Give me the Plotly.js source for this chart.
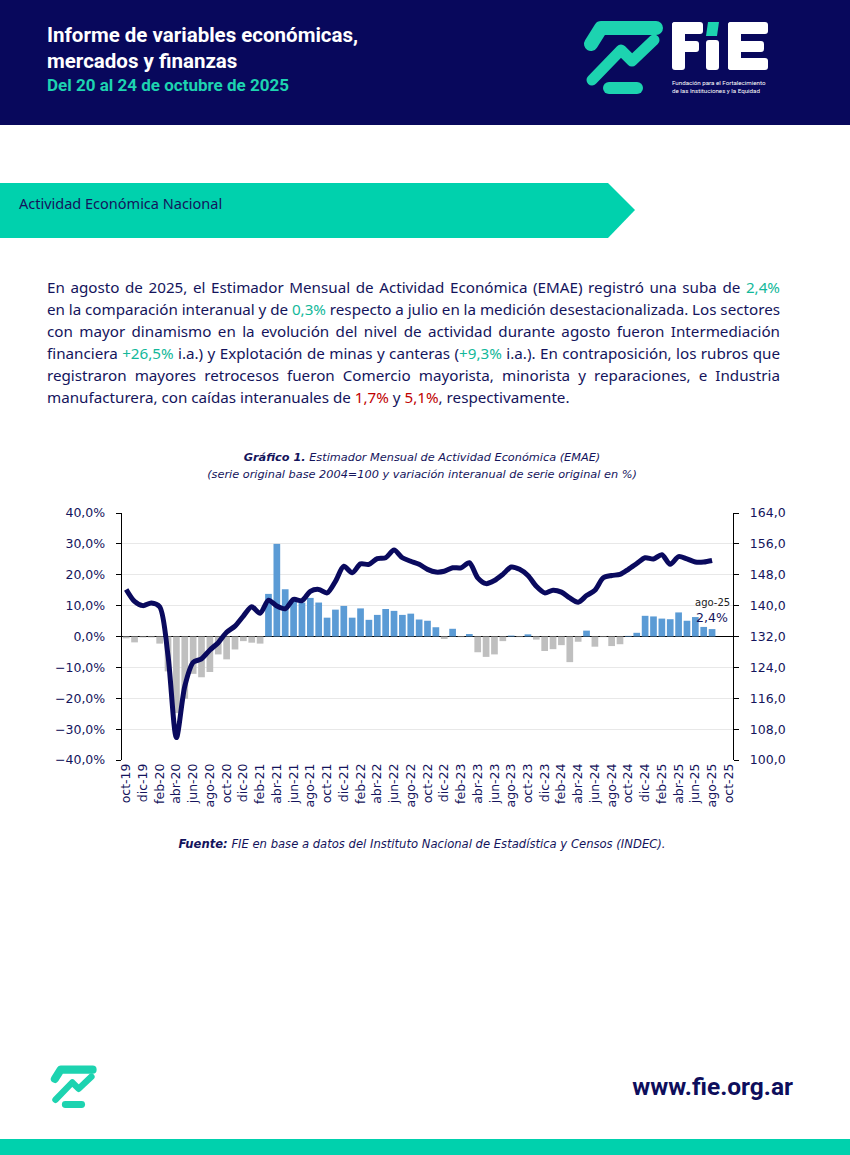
<!DOCTYPE html>
<html>
<head>
<meta charset="utf-8">
<script src="https://cdn.plot.ly/plotly-3.0.1.min.js"></script>
<style>
  html, body { margin:0; padding:0; background:#fff; }
  body { width:850px; height:1155px; position:relative; overflow:hidden; font-family:"Noto Sans", sans-serif; }
  .abs { position:absolute; }
  #header { left:0; top:0; width:850px; height:125px; background:#08085C; }
  .h1 { color:#fff; font-family:Roboto, sans-serif; font-weight:700; font-size:20.5px; left:47px; }
  .h2 { color:#1DD3B0; font-family:Roboto, sans-serif; font-weight:700; font-size:17px; left:47px; }
  #para { left:47px; top:276px; width:733px; color:#14145C; font-size:15.2px; }
  #para div { height:22px; line-height:22px; text-align:justify; text-align-last:justify; white-space:nowrap; word-spacing:-1.5px; overflow:visible; }
  #para div.last { text-align-last:left; word-spacing:0; }
  .tl { color:#13B89A; }
  .rd { color:#C00000; }
  .ctitle { left:0; width:844px; text-align:center; color:#14145C; font-family:"DejaVu Sans", sans-serif; font-style:italic; font-size:11.3px; }
  #chart { left:0; top:500px; width:850px; height:330px; }
  #url { left:600px; top:1072px; width:193px; text-align:right; color:#0E0E5C; font-family:Roboto, sans-serif; font-weight:700; font-size:24.5px; }
  #bottombar { left:0; top:1139px; width:850px; height:16px; background:#00D1AD; }
</style>
</head>
<body>
<div id="header" class="abs"></div>
<div class="abs h1" style="top:23px;">Informe de variables económicas,</div>
<div class="abs h1" style="top:49px;">mercados y finanzas</div>
<div class="abs h2" style="top:75px;">Del 20 al 24 de octubre de 2025</div>

<svg class="abs" style="left:0;top:0;" width="850" height="125">
  <g stroke="#1DD3B0" stroke-linecap="round" stroke-linejoin="round" fill="none">
    <path d="M 591 44 L 601 28 L 656 28" stroke-width="14"/>
    <path d="M 592 80 L 621 50 L 632 61 L 654 40" stroke-width="11"/>
    <path d="M 609 88 L 637 88" stroke-width="12"/>
  </g>
  <g fill="#fff">
    <rect x="672" y="22" width="13" height="48" rx="3"/>
    <rect x="672" y="22" width="31" height="12" rx="3"/>
    <rect x="672" y="41" width="27" height="11" rx="3"/>
    <rect x="706" y="40" width="13" height="30" rx="3"/>
    <rect x="728" y="22" width="13" height="48" rx="3"/>
    <rect x="728" y="22" width="40" height="12" rx="3"/>
    <rect x="728" y="41" width="36" height="11" rx="3"/>
    <rect x="728" y="58" width="40" height="12" rx="3"/>
  </g>
  <path d="M 708 22 L 719 22 L 717 36 L 706 36 Z" fill="#1DD3B0"/>
  <text x="672" y="85" fill="#fff" font-family="Roboto, sans-serif" font-size="6.2">Fundación para el Fortalecimiento</text>
  <text x="672" y="93" fill="#fff" font-family="Roboto, sans-serif" font-size="6.2">de las Instituciones y la Equidad</text>
</svg>

<svg class="abs" style="left:0;top:180px;" width="850" height="62">
  <polygon points="0,3 608,3 635,30 608,58 0,58" fill="#00D1AD"/>
  <text x="19" y="29" fill="#14145C" font-family="Noto Sans, sans-serif" font-size="14.5">Actividad Económica Nacional</text>
</svg>

<div id="para" class="abs">
  <div>En agosto de 2025, el Estimador Mensual de Actividad Económica (EMAE) registró una suba de <span class="tl">2,4%</span></div>
  <div>en la comparación interanual y de <span class="tl">0,3%</span> respecto a julio en la medición desestacionalizada. Los sectores</div>
  <div>con mayor dinamismo en la evolución del nivel de actividad durante agosto fueron Intermediación</div>
  <div>financiera <span class="tl">+26,5%</span> i.a.) y Explotación de minas y canteras (<span class="tl">+9,3%</span> i.a.). En contraposición, los rubros que</div>
  <div>registraron mayores retrocesos fueron Comercio mayorista, minorista y reparaciones, e Industria</div>
  <div class="last">manufacturera, con caídas interanuales de <span class="rd">1,7%</span> y <span class="rd">5,1%</span>, respectivamente.</div>
</div>

<div class="abs ctitle" style="top:451px;"><b>Gráfico 1.</b> Estimador Mensual de Actividad Económica (EMAE)</div>
<div class="abs ctitle" style="top:468px;">(serie original base 2004=100 y variación interanual de serie original en %)</div>

<div id="chart" class="abs"></div>

<div class="abs ctitle" style="top:837px;font-size:11.6px;"><b>Fuente:</b> FIE en base a datos del Instituto Nacional de Estadística y Censos (INDEC).</div>

<svg class="abs" style="left:0;top:1050px;" width="150" height="80">
  <g stroke="#1DD3B0" stroke-linecap="round" stroke-linejoin="round" fill="none" transform="translate(52,15) scale(0.58) translate(-586,-20)">
    <path d="M 591 44 L 601 28 L 656 28" stroke-width="14"/>
    <path d="M 592 80 L 621 50 L 632 61 L 654 40" stroke-width="11"/>
    <path d="M 609 88 L 637 88" stroke-width="12"/>
  </g>
</svg>
<div id="url" class="abs">www.fie.org.ar</div>
<div id="bottombar" class="abs"></div>

<script>
// Month categories (x axis)
const months = ["oct-19","nov-19","dic-19","ene-20","feb-20","mar-20","abr-20","may-20","jun-20","jul-20","ago-20","sep-20",
"oct-20","nov-20","dic-20","ene-21","feb-21","mar-21","abr-21","may-21","jun-21","jul-21","ago-21","sep-21",
"oct-21","nov-21","dic-21","ene-22","feb-22","mar-22","abr-22","may-22","jun-22","jul-22","ago-22","sep-22",
"oct-22","nov-22","dic-22","ene-23","feb-23","mar-23","abr-23","may-23","jun-23","jul-23","ago-23","sep-23",
"oct-23","nov-23","dic-23","ene-24","feb-24","mar-24","abr-24","may-24","jun-24","jul-24","ago-24","sep-24",
"oct-24","nov-24","dic-24","ene-25","feb-25","mar-25","abr-25","may-25","jun-25","jul-25","ago-25","sep-25","oct-25"];

// Tick labels shown (every other month)
const tickLabels = ["oct-19","dic-19","feb-20","abr-20","jun-20","ago-20","oct-20","dic-20","feb-21","abr-21","jun-21","ago-21",
"oct-21","dic-21","feb-22","abr-22","jun-22","ago-22","oct-22","dic-22","feb-23","abr-23","jun-23","ago-23",
"oct-23","dic-23","feb-24","abr-24","jun-24","ago-24","oct-24","dic-24","feb-25","abr-25","jun-25","ago-25","oct-25"];

// Year-on-year variation, % (bars, left axis), oct-19 .. ago-25
const yoyVar = [-0.6,-1.9,-0.3,-0.3,-2.3,-11.3,-24.8,-20.2,-12.1,-13.2,-11.5,-5.8,
-7.4,-4.2,-1.5,-2.0,-2.3,13.8,30.0,15.3,11.6,11.0,12.5,11.0,
6.1,8.7,9.9,6.1,9.1,5.4,7.0,8.9,8.3,7.0,7.4,5.5,
5.1,3.0,-0.8,2.5,-0.2,0.8,-5.1,-6.6,-5.8,-1.5,0.3,-0.2,
0.7,-1.0,-4.7,-4.1,-2.8,-8.3,-1.7,1.9,-3.3,-0.2,-3.1,-2.5,
0.2,1.2,6.7,6.5,5.8,5.6,7.8,5.1,6.3,3.1,2.4];

// EMAE original series index 2004=100 (line, right axis)
const emaeIndex = [144.2,141.1,140.0,140.7,139.7,127.0,105.8,119.1,125.3,126.2,128.5,130.4,
133.1,134.7,137.3,139.7,138.0,141.4,139.9,139.2,141.6,141.3,143.7,144.2,
143.3,146.3,150.2,148.5,150.8,150.7,152.2,152.4,154.4,152.4,151.5,150.7,
149.4,148.7,148.9,149.8,149.8,151.1,147.2,145.7,146.5,148.1,150.0,149.4,
147.8,145.0,143.3,144.0,143.5,142.0,140.9,142.6,144.0,147.2,147.8,148.1,
149.4,150.9,152.4,152.1,153.2,150.7,152.7,152.1,151.3,151.3,151.7];

const navy = "#14145C";
const dataMonths = months.slice(0, yoyVar.length);
const barColors = yoyVar.map(v => v >= 0 ? "#5B9BD5" : "#BFBFBF");

const lastIdx = yoyVar.length - 1;
const fmt = v => v.toFixed(1).replace(".", ",");

const traces = [
  { type:"bar", x:dataMonths, y:yoyVar, marker:{color:barColors}, yaxis:"y", hoverinfo:"skip" },
  { type:"scatter", mode:"lines", x:dataMonths, y:emaeIndex, yaxis:"y2",
    line:{color:"#0A0A5E", width:5, shape:"spline", smoothing:0.8}, hoverinfo:"skip" }
];

const axFont = {family:"DejaVu Sans, sans-serif", size:12.5, color:navy};

const layout = {
  width:850, height:330,
  margin:{l:122, r:117, t:13, b:70},
  paper_bgcolor:"rgba(0,0,0,0)", plot_bgcolor:"rgba(0,0,0,0)",
  separators:",.",
  showlegend:false,
  bargap:0.2,
  xaxis:{type:"category", categoryorder:"array", categoryarray:months, range:[-0.5, months.length-0.5],
    tickmode:"array", tickvals:tickLabels, ticktext:tickLabels, tickangle:-90, tickfont:axFont,
    showgrid:false, showline:false, zeroline:false, ticks:"", fixedrange:true},
  yaxis:{range:[-40,40], dtick:10, tick0:0, tickformat:".1f", ticksuffix:"%", tickfont:axFont,
    showline:true, linecolor:"#000", linewidth:1.3, ticks:"outside", ticklen:5, tickcolor:"#000",
    gridcolor:"#E8E8E8", gridwidth:1, zeroline:true, zerolinecolor:"#000", zerolinewidth:1.5, ticklabelstandoff:8},
  yaxis2:{range:[100,164], dtick:8, tick0:100, tickformat:".1f", tickfont:axFont, overlaying:"y", side:"right",
    showline:true, linecolor:"#000", linewidth:1.3, ticks:"outside", ticklen:5, tickcolor:"#000",
    showgrid:false, zeroline:false, ticklabelstandoff:8},
  annotations:[
    {x:dataMonths[lastIdx], y:yoyVar[lastIdx], xref:"x", yref:"y", text:dataMonths[lastIdx], showarrow:false,
     yshift:27, font:{family:"DejaVu Sans, sans-serif", size:10, color:"#222"}},
    {x:dataMonths[lastIdx], y:yoyVar[lastIdx], xref:"x", yref:"y", text:fmt(yoyVar[lastIdx])+"%", showarrow:false,
     yshift:12, font:{family:"DejaVu Sans, sans-serif", size:12.5, color:navy}}
  ]
};

Plotly.newPlot("chart", traces, layout, {staticPlot:true, displayModeBar:false});
</script>
</body>
</html>
